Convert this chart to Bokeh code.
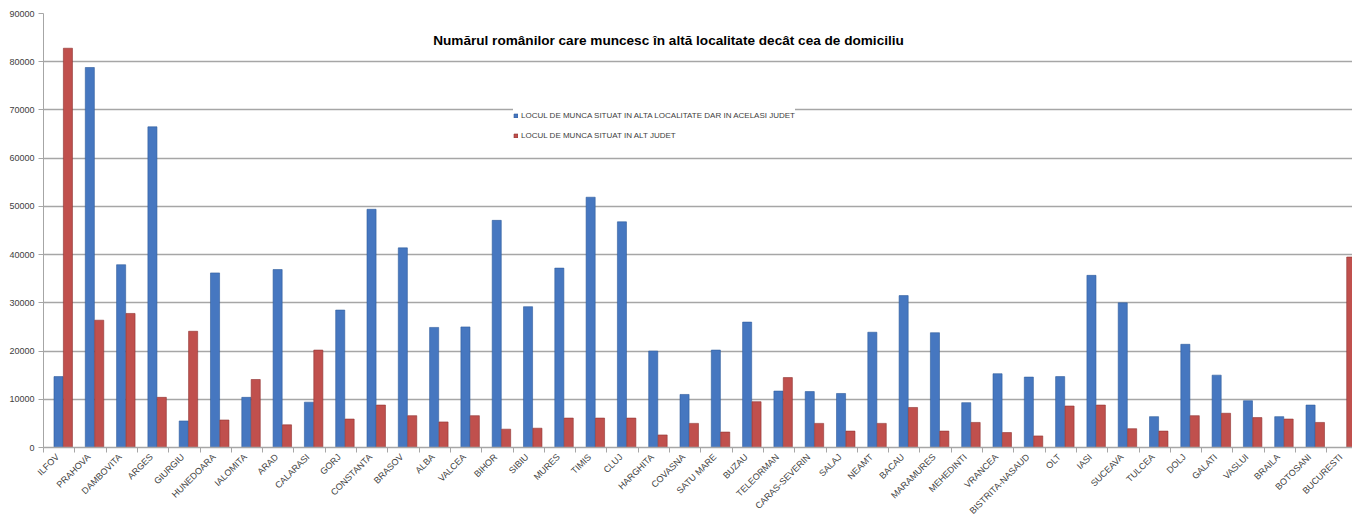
import math
from bokeh.plotting import figure
from bokeh.models import Range1d, FixedTicker, Legend, LegendItem, Label, ColumnDataSource
from bokeh.embed import file_html
from bokeh.resources import INLINE

# ---------------- data ----------------
counties = ["ILFOV", "PRAHOVA", "DAMBOVITA", "ARGES", "GIURGIU", "HUNEDOARA",
            "IALOMITA", "ARAD", "CALARASI", "GORJ", "CONSTANTA", "BRASOV",
            "ALBA", "VALCEA", "BIHOR", "SIBIU", "MURES", "TIMIS", "CLUJ",
            "HARGHITA", "COVASNA", "SATU MARE", "BUZAU", "TELEORMAN",
            "CARAS-SEVERIN", "SALAJ", "NEAMT", "BACAU", "MARAMURES",
            "MEHEDINTI", "VRANCEA", "BISTRITA-NASAUD", "OLT", "IASI",
            "SUCEAVA", "TULCEA", "DOLJ", "GALATI", "VASLUI", "BRAILA",
            "BOTOSANI", "BUCURESTI"]

same_county = [14700, 78800, 37900, 66500, 5500, 36200,
               10400, 36900, 9400, 28500, 49400, 41400,
               24900, 25000, 47100, 29200, 37200, 51900, 46800,
               20000, 11000, 20200, 26000, 11700,
               11600, 11200, 23900, 31500, 23800,
               9300, 15300, 14600, 14700, 35700,
               30000, 6400, 21400, 15000, 9700, 6400,
               8800, 0]

other_county = [82800, 26400, 27800, 10400, 24100, 5700,
                14100, 4700, 20200, 5900, 8800, 6600,
                5300, 6600, 3800, 4000, 6100, 6100, 6100,
                2600, 5000, 3200, 9500, 14500,
                5000, 3400, 5000, 8300, 3400,
                5200, 3100, 2400, 8600, 8800,
                3900, 3400, 6600, 7100, 6200, 5900,
                5200, 39500]

y_ticks = [0, 10000, 20000, 30000, 40000, 50000, 60000, 70000, 80000, 90000]

series_names = ["LOCUL DE MUNCA SITUAT IN ALTA LOCALITATE DAR IN ACELASI JUDET",
                "LOCUL DE MUNCA SITUAT IN ALT JUDET"]
chart_title = "Numărul românilor care muncesc în altă localitate decât cea de domiciliu"

# ---------------- build ----------------
n = len(counties)
pos = list(range(n))
src = ColumnDataSource(dict(
    bx=[i + 0.48 for i in pos],
    rx=[i + 0.78 for i in pos],
    blue=same_county,
    red=other_county,
))
label_ticks = [i + 0.45 for i in pos]

FONT = "Liberation Sans"
GRID = "#a6a6a6"
TXT = "#404040"

p = figure(width=1352, height=523,
           x_range=Range1d(0, 41.82), y_range=Range1d(0, 90000),
           output_backend="svg", toolbar_location=None,
           min_border_left=43, min_border_right=0,
           min_border_top=13, min_border_bottom=76)
p.outline_line_color = None
p.background_fill_color = "white"

r_blue = p.vbar(x="bx", top="blue", width=0.29, bottom=0, source=src,
                fill_color="#4677c0", line_color="#2f5c9c", line_width=0.6)
r_red = p.vbar(x="rx", top="red", width=0.29, bottom=0, source=src,
               fill_color="#c0504d", line_color="#8e3330", line_width=0.6)

# y axis
p.yaxis.ticker = FixedTicker(ticks=y_ticks)
p.yaxis.formatter.use_scientific = False
p.yaxis.axis_line_color = GRID
p.yaxis.major_tick_line_color = GRID
p.yaxis.major_tick_out = 5
p.yaxis.major_tick_in = 0
p.yaxis.minor_tick_line_color = None
p.yaxis.major_label_text_font = FONT
p.yaxis.major_label_text_font_size = "9px"
p.yaxis.major_label_text_color = TXT
p.yaxis.major_label_standoff = 4

p.ygrid.ticker = FixedTicker(ticks=y_ticks)
p.ygrid.grid_line_color = GRID
p.ygrid.grid_line_width = 1.5
p.xgrid.grid_line_color = None

# x axis: boundary ticks (minor) + rotated county labels
p.xaxis.ticker = FixedTicker(ticks=label_ticks, minor_ticks=list(range(n + 1)))
p.xaxis.major_label_overrides = {t: c for t, c in zip(label_ticks, counties)}
p.xaxis.major_label_orientation = math.pi / 4
p.xaxis.axis_line_color = GRID
p.xaxis.axis_line_width = 1.5
p.xaxis.major_tick_line_color = None
p.xaxis.major_tick_out = 0
p.xaxis.major_tick_in = 0
p.xaxis.minor_tick_line_color = GRID
p.xaxis.minor_tick_out = 5
p.xaxis.minor_tick_in = 0
p.xaxis.major_label_standoff = 3
p.xaxis.major_label_text_font = FONT
p.xaxis.major_label_text_font_size = "9px"
p.xaxis.major_label_text_color = TXT

# title inside the plot area
p.add_layout(Label(x=625, y=407, x_units="screen", y_units="screen",
                   text=chart_title, text_align="center", text_baseline="middle",
                   text_font=FONT, text_font_style="bold",
                   text_font_size="13.6px", text_color="#000000"))

legend = Legend(items=[LegendItem(label=series_names[0], renderers=[r_blue]),
                       LegendItem(label=series_names[1], renderers=[r_red])],
                location=(470, 302))
legend.background_fill_color = "white"
legend.background_fill_alpha = 1
legend.border_line_color = None
legend.label_text_font = FONT
legend.label_text_font_size = "8px"
legend.label_text_color = TXT
legend.glyph_width = 5
legend.glyph_height = 5
legend.label_standoff = 3
legend.label_width = 272
legend.padding = 16
legend.spacing = 0
legend.label_height = 20
legend.margin = 0
p.add_layout(legend)

open("out.html", "w").write(file_html(p, INLINE))
